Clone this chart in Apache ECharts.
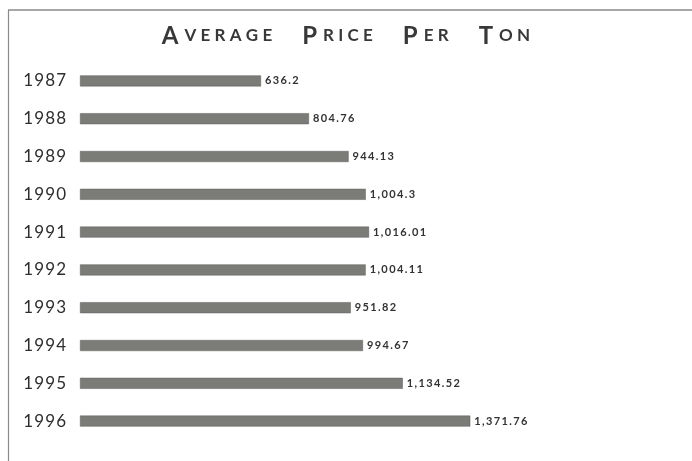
<!DOCTYPE html>
<html>
<head>
<meta charset="utf-8">
<script src="https://cdn.jsdelivr.net/npm/echarts@6/dist/echarts.min.js"></script>
<style>
  html, body { margin: 0; padding: 0; background: #fff; }
  #chart { width: 692px; height: 461px; }
</style>
</head>
<body>
<div id="chart"></div>
<script>
// data
const years = ['1987', '1988', '1989', '1990', '1991', '1992', '1993', '1994', '1995', '1996']
const prices = [636.2, 804.76, 944.13, 1004.3, 1016.01, 1004.11, 951.82, 994.67, 1134.52, 1371.76]
const priceLabels = ['636.2', '804.76', '944.13', '1,004.3', '1,016.01', '1,004.11', '951.82', '994.67', '1,134.52', '1,371.76']

const spaced = (s, gap) => s.split('').join(gap || '\u200a')

const chart = echarts.init(document.getElementById('chart'))

const word = (first, rest) => '{b|' + first + '}{s|' + spaced(rest, '\u2009\u2009') + '}'

chart.setOption({
  backgroundColor: '#ffffff',
  animation: false,
  title: {
    text: [word('A', 'VERAGE'), word('P', 'RICE'), word('P', 'ER'), word('T', 'ON')].join('{g| }'),
    left: 'center',
    top: 19,
    textStyle: {
      rich: {
        b: { fontFamily: 'Lato', fontSize: 24, color: '#383838', fontWeight: 'bold' },
        s: { fontFamily: 'Lato', fontSize: 17, color: '#383838', fontWeight: 'bold', padding: [0, 0, 0, 6] },
        g: { fontSize: 17, width: 30 }
      }
    }
  },
  grid: { left: 80, right: 43, top: 62, bottom: 21, containLabel: false },
  xAxis: {
    type: 'value',
    min: 0,
    max: 2000,
    show: false
  },
  yAxis: {
    type: 'category',
    data: years,
    inverse: true,
    axisLine: { show: false },
    axisTick: { show: false },
    splitLine: { show: false },
    axisLabel: {
      margin: 14,
      fontFamily: 'Lato',
      fontSize: 17,
      color: '#2e2e2e',
      formatter: v => spaced(v)
    }
  },
  series: [{
    type: 'bar',
    data: prices,
    barWidth: 11,
    itemStyle: { color: '#7b7b78', borderColor: '#5e5e5c', borderWidth: 0.5 },
    label: {
      show: true,
      position: 'right',
      distance: 4,
      fontFamily: 'Lato',
      fontSize: 11,
      fontWeight: 'bold',
      color: '#333',
      formatter: p => spaced(priceLabels[p.dataIndex], '\u2009')
    }
  }],
  graphic: [
    { type: 'line', shape: { x1: 8, y1: 10, x2: 692, y2: 10 }, style: { stroke: '#8a8a8a', lineWidth: 1.5 } },
    { type: 'line', shape: { x1: 8.5, y1: 10, x2: 8.5, y2: 461 }, style: { stroke: '#8a8a8a', lineWidth: 1.2 } }
  ]
})
</script>
</body>
</html>
